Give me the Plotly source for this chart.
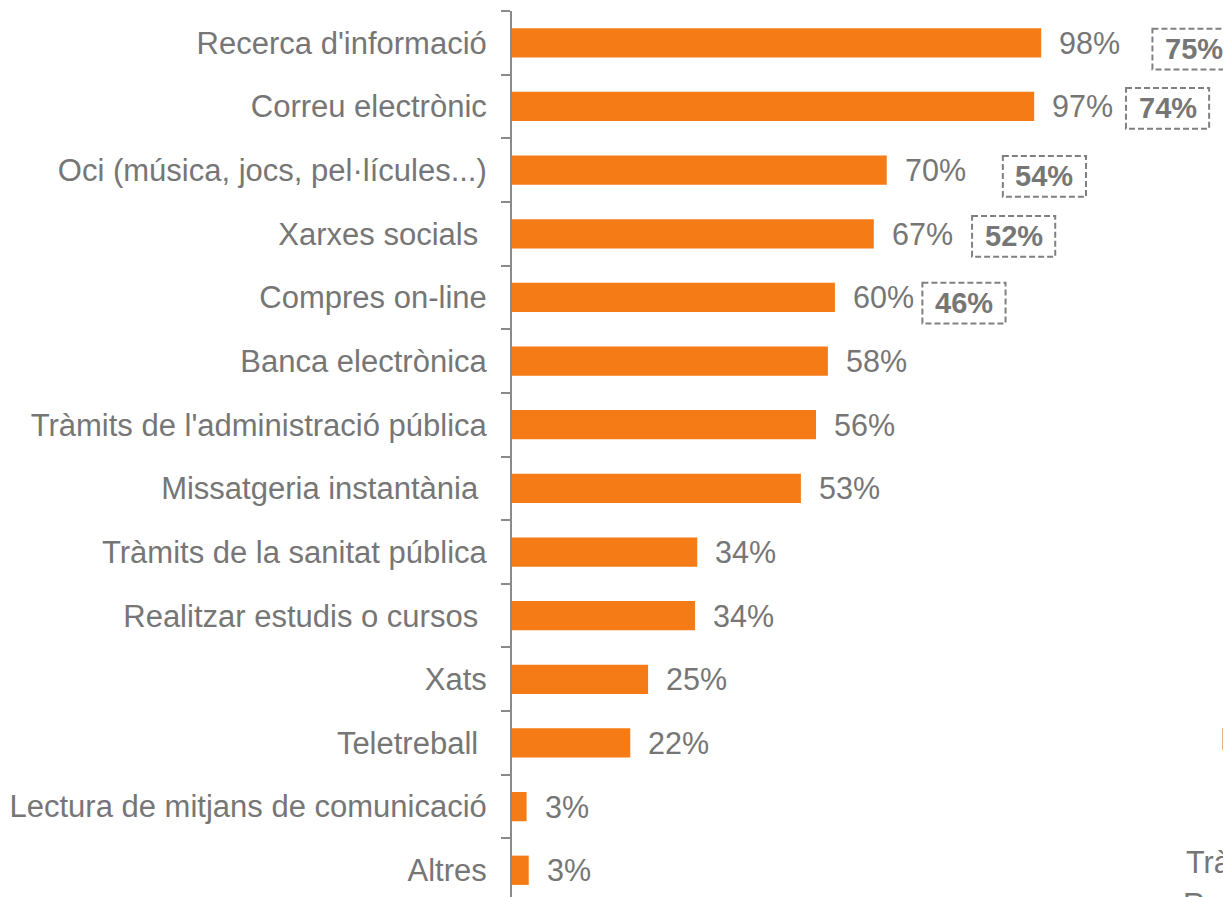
import plotly.graph_objects as go

# Ús d'internet (percentatge d'usuaris)
categories = [
    "Recerca d'informació",
    "Correu electrònic",
    "Oci (música, jocs, pel·lícules...)",
    "Xarxes socials\u00a0",
    "Compres on-line",
    "Banca electrònica",
    "Tràmits de l'administració pública",
    "Missatgeria instantània\u00a0",
    "Tràmits de la sanitat pública",
    "Realitzar estudis o cursos\u00a0",
    "Xats",
    "Teletreball\u00a0",
    "Lectura de mitjans de comunicació",
    "Altres",
]
values = [98.0, 96.7, 69.4, 67.0, 59.8, 58.5, 56.3, 53.5, 34.3, 33.9, 25.2, 21.9, 2.7, 3.1]
value_labels = ["98%", "97%", "70%", "67%", "60%", "58%", "56%", "53%",
                "34%", "34%", "25%", "22%", "3%", "3%"]
# valors comparatius (recuadre discontinu) per a les cinc primeres categories
boxed_labels = ["75%", "74%", "54%", "52%", "46%"]

ORANGE = "#F47B16"
GREY = "#767676"
FONT = "Liberation Sans, Arial, sans-serif"

fig = go.Figure()
fig.add_trace(
    go.Bar(
        x=values,
        y=categories,
        orientation="h",
        marker=dict(color=ORANGE, line=dict(width=0)),
        hoverinfo="skip",
    )
)

# etiquetes de valor a la dreta de cada barra
for cat, val, lab in zip(categories, values, value_labels):
    fig.add_annotation(
        x=val, y=cat, xref="x", yref="y",
        text=lab, showarrow=False,
        xanchor="left", yanchor="middle", xshift=16,
        font=dict(family=FONT, size=30.5, color=GREY),
    )

# recuadres discontinus
box_left = [118.6, 113.7, 90.9, 85.2, 76.0]
box_width = 15.4
box_dy = [0.10, 0.03, 0.10, 0.04, 0.09]
for i, lab in enumerate(boxed_labels):
    x0 = box_left[i]
    yc = i + box_dy[i]
    fig.add_shape(
        type="rect", xref="x", yref="y",
        x0=x0, x1=x0 + box_width, y0=yc - 0.32, y1=yc + 0.32,
        line=dict(color="#808080", width=2, dash="6px,3px"),
        fillcolor="rgba(0,0,0,0)",
    )
    fig.add_annotation(
        x=x0 + box_width / 2, y=yc, xref="x", yref="y",
        text=f"<b>{lab}</b>", showarrow=False,
        xanchor="center", yanchor="middle",
        font=dict(family=FONT, size=29, color=GREY),
    )

# restes d'un altre gràfic tallat a la dreta
for txt, px, py in [("M", 0.9825, 0.178), ("Trà", 0.9346, 0.040), ("R", 0.9305, -0.008)]:
    fig.add_annotation(
        x=px, y=py, xref="paper", yref="paper",
        text=txt, showarrow=False, xanchor="left", yanchor="middle",
        font=dict(family=FONT, size=30.5, color=GREY),
    )

# la pàgina té 8 px de marge al body: la figura s'ajusta a la finestra
fig.update_layout(
    width=1223,
    height=889,
    margin=dict(l=504, r=0, t=3, b=0, autoexpand=False),
    plot_bgcolor="white",
    paper_bgcolor="white",
    bargap=0.54,
    showlegend=False,
    xaxis=dict(visible=False, range=[0, 133.15]),
    yaxis=dict(
        type="category",
        categoryorder="array",
        categoryarray=categories,
        range=[13.42, -0.5],
        showline=True,
        linecolor="#8a8a8a",
        linewidth=2,
        ticks="outside",
        tickson="boundaries",
        ticklen=9,
        tickwidth=2,
        tickcolor="#8a8a8a",
        ticklabelstandoff=17,
        showgrid=False,
        automargin=False,
        tickfont=dict(family=FONT, size=31, color=GREY),
    ),
)

fig.write_html("out.html")
